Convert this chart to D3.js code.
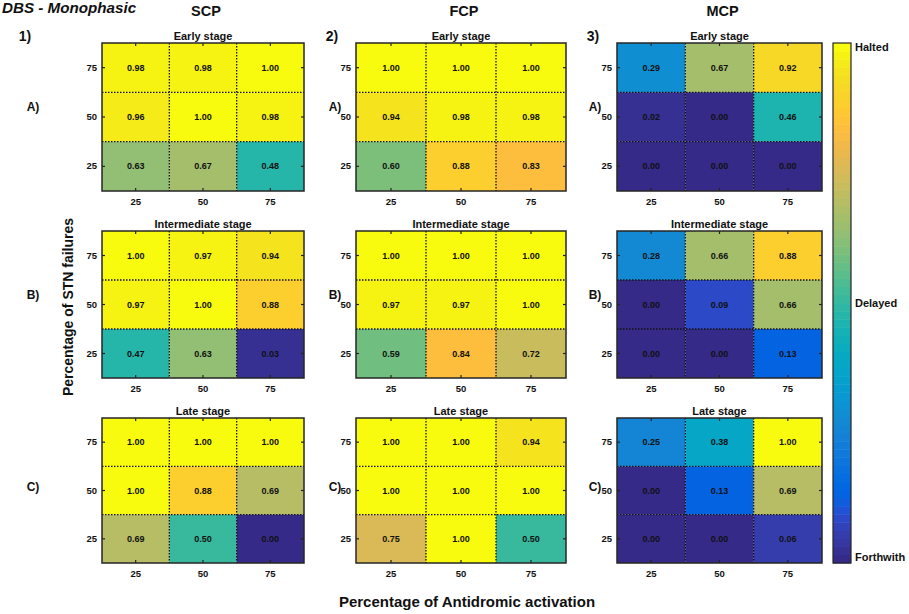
<!DOCTYPE html>
<html>
<head>
<meta charset="utf-8">
<script src="https://cdn.jsdelivr.net/npm/d3@7"></script>
<style>
  html, body { margin: 0; padding: 0; background: #fff; }
  svg { display: block; font-family: "Liberation Sans", Arial, sans-serif; }
</style>
</head>
<body>
<svg id="chart" width="909" height="614"></svg>
<script>
// ---------------- DATA ----------------
const xCategories = ["25", "50", "75"];          // Percentage of Antidromic activation
const yCategories = ["75", "50", "25"];          // Percentage of STN failures (top to bottom)
const protocols = ["SCP", "FCP", "MCP"];
const stages = ["Early stage", "Intermediate stage", "Late stage"];
const rowLetters = ["A)", "B)", "C)"];
const colNumbers = ["1)", "2)", "3)"];
const colorbarLabels = ["Halted", "Delayed", "Forthwith"];

// each matrix: rows = y 75, 50, 25 ; cols = x 25, 50, 75
const scpEarly        = [[0.98, 0.98, 1.00], [0.96, 1.00, 0.98], [0.63, 0.67, 0.48]];
const scpIntermediate = [[1.00, 0.97, 0.94], [0.97, 1.00, 0.88], [0.47, 0.63, 0.03]];
const scpLate         = [[1.00, 1.00, 1.00], [1.00, 0.88, 0.69], [0.69, 0.50, 0.00]];

const fcpEarly        = [[1.00, 1.00, 1.00], [0.94, 0.98, 0.98], [0.60, 0.88, 0.83]];
const fcpIntermediate = [[1.00, 1.00, 1.00], [0.97, 0.97, 1.00], [0.59, 0.84, 0.72]];
const fcpLate         = [[1.00, 1.00, 0.94], [1.00, 1.00, 1.00], [0.75, 1.00, 0.50]];

const mcpEarly        = [[0.29, 0.67, 0.92], [0.02, 0.00, 0.46], [0.00, 0.00, 0.00]];
const mcpIntermediate = [[0.28, 0.66, 0.88], [0.00, 0.09, 0.66], [0.00, 0.00, 0.13]];
const mcpLate         = [[0.25, 0.38, 1.00], [0.00, 0.13, 0.69], [0.00, 0.00, 0.06]];

const matrices = [
  [scpEarly, fcpEarly, mcpEarly],
  [scpIntermediate, fcpIntermediate, mcpIntermediate],
  [scpLate, fcpLate, mcpLate]
];

// ---------------- COLORMAP (MATLAB parula, 64 levels) ----------------
const PARULA = [
[0.2081,0.1663,0.5292],[0.2116,0.1898,0.5777],[0.2123,0.2138,0.6270],[0.2081,0.2386,0.6771],
[0.1959,0.2645,0.7279],[0.1707,0.2919,0.7792],[0.1253,0.3242,0.8303],[0.0591,0.3598,0.8683],
[0.0117,0.3875,0.8820],[0.0060,0.4086,0.8828],[0.0165,0.4266,0.8786],[0.0329,0.4430,0.8720],
[0.0498,0.4586,0.8641],[0.0629,0.4737,0.8554],[0.0723,0.4887,0.8467],[0.0779,0.5040,0.8384],
[0.0793,0.5200,0.8312],[0.0749,0.5375,0.8263],[0.0641,0.5570,0.8240],[0.0488,0.5772,0.8228],
[0.0343,0.5966,0.8199],[0.0265,0.6137,0.8135],[0.0239,0.6287,0.8038],[0.0231,0.6418,0.7913],
[0.0228,0.6535,0.7768],[0.0267,0.6642,0.7607],[0.0384,0.6743,0.7436],[0.0590,0.6838,0.7254],
[0.0843,0.6928,0.7062],[0.1133,0.7015,0.6859],[0.1453,0.7098,0.6646],[0.1801,0.7177,0.6424],
[0.2178,0.7250,0.6193],[0.2586,0.7317,0.5954],[0.3022,0.7376,0.5712],[0.3482,0.7424,0.5473],
[0.3953,0.7459,0.5244],[0.4420,0.7481,0.5033],[0.4871,0.7491,0.4840],[0.5300,0.7491,0.4661],
[0.5709,0.7485,0.4494],[0.6099,0.7473,0.4337],[0.6473,0.7456,0.4188],[0.6834,0.7435,0.4044],
[0.7184,0.7411,0.3905],[0.7525,0.7384,0.3768],[0.7858,0.7356,0.3633],[0.8185,0.7327,0.3498],
[0.8507,0.7299,0.3360],[0.8824,0.7274,0.3217],[0.9139,0.7258,0.3063],[0.9450,0.7261,0.2886],
[0.9739,0.7314,0.2666],[0.9938,0.7455,0.2403],[0.9990,0.7653,0.2164],[0.9955,0.7861,0.1967],
[0.9880,0.8066,0.1794],[0.9789,0.8271,0.1633],[0.9697,0.8481,0.1475],[0.9626,0.8705,0.1309],
[0.9589,0.8949,0.1132],[0.9598,0.9218,0.0948],[0.9661,0.9514,0.0755],[0.9763,0.9831,0.0538]
];
const parulaColors = PARULA.map(c => d3.rgb(c[0]*255, c[1]*255, c[2]*255).formatHex());
const colorIndex = d3.scaleQuantize().domain([0, 1]).range(d3.range(64));
const color = v => parulaColors[colorIndex(v)];

// ---------------- LAYOUT ----------------
const colX = [[102, 304], [356, 566], [617, 822]];
const rowY = [[43, 191], [231, 378], [418, 563]];
const letterX = [33, 335, 595];
const letterY = [107, 295, 487];

const svg = d3.select("#chart");
const FONT = "'Liberation Sans', Arial, sans-serif";

// top texts
svg.append("text").attr("x", 2).attr("y", 13)
  .attr("font-size", 15.2).attr("font-weight", "bold").attr("font-style", "italic")
  .attr("fill", "#111").text("DBS - Monophasic");

protocols.forEach((p, j) => {
  svg.append("text").attr("x", (colX[j][0] + colX[j][1]) / 2 + 3).attr("y", 16)
    .attr("text-anchor", "middle").attr("font-size", 14.5).attr("font-weight", "bold")
    .attr("fill", "#111").text(p);
  svg.append("text").attr("x", [25, 332, 593][j]).attr("y", 41)
    .attr("text-anchor", "middle").attr("font-size", 14).attr("font-weight", "bold")
    .attr("fill", "#111").text(colNumbers[j]);
});

// panels
stages.forEach((stage, i) => {
  protocols.forEach((p, j) => {
    const [x0, x1] = colX[j];
    const [y0, y1] = rowY[i];
    const x = d3.scaleBand().domain(xCategories).range([x0, x1]);
    const y = d3.scaleBand().domain(yCategories).range([y0, y1]);
    const g = svg.append("g");
    const data = [];
    matrices[i][j].forEach((row, ri) => row.forEach((v, ci) =>
      data.push({ xc: xCategories[ci], yc: yCategories[ri], v })));

    g.selectAll("rect.cell").data(data).enter().append("rect")
      .attr("class", "cell")
      .attr("x", d => x(d.xc)).attr("y", d => y(d.yc))
      .attr("width", x.bandwidth()).attr("height", y.bandwidth())
      .attr("fill", d => color(d.v));

    // dotted grid lines between cells
    xCategories.slice(1).forEach(c => {
      g.append("line").attr("x1", x(c)).attr("x2", x(c)).attr("y1", y0).attr("y2", y1)
        .attr("stroke", "#111").attr("stroke-width", 1.3).attr("stroke-dasharray", "1.5,1.5");
    });
    yCategories.slice(1).forEach(c => {
      g.append("line").attr("y1", y(c)).attr("y2", y(c)).attr("x1", x0).attr("x2", x1)
        .attr("stroke", "#111").attr("stroke-width", 1.3).attr("stroke-dasharray", "1.5,1.5");
    });

    // value labels
    g.selectAll("text.val").data(data).enter().append("text")
      .attr("class", "val")
      .attr("x", d => x(d.xc) + x.bandwidth() / 2)
      .attr("y", d => y(d.yc) + y.bandwidth() / 2)
      .attr("dy", "0.35em").attr("text-anchor", "middle")
      .attr("font-size", 9).attr("font-weight", "bold").attr("fill", "#111")
      .text(d => d.v.toFixed(2));

    // axes
    const axL = g.append("g").attr("transform", `translate(${x0},0)`)
      .call(d3.axisLeft(y).tickSize(-3).tickPadding(5));
    const axB = g.append("g").attr("transform", `translate(0,${y1})`)
      .call(d3.axisBottom(x).tickSize(-3).tickPadding(7));
    const axR = g.append("g").attr("transform", `translate(${x1},0)`)
      .call(d3.axisRight(y).tickSize(-3).tickFormat(""));
    const axT = g.append("g").attr("transform", `translate(0,${y0})`)
      .call(d3.axisTop(x).tickSize(-3).tickFormat(""));
    [axL, axB, axR, axT].forEach(a => {
      a.select(".domain").remove();
      a.selectAll("line").attr("stroke", "#222").attr("stroke-width", 1.2);
      a.selectAll("text").attr("font-size", 9.5).attr("font-weight", "bold")
        .attr("fill", "#111").attr("font-family", FONT);
    });

    // border
    g.append("rect").attr("x", x0).attr("y", y0).attr("width", x1 - x0).attr("height", y1 - y0)
      .attr("fill", "none").attr("stroke", "#262626").attr("stroke-width", 1.5);

    // title
    g.append("text").attr("x", (x0 + x1) / 2).attr("y", y0 - 3)
      .attr("text-anchor", "middle").attr("font-size", 11).attr("font-weight", "bold")
      .attr("fill", "#111").text(stage);

    // row letter
    g.append("text").attr("x", letterX[j]).attr("y", letterY[i])
      .attr("text-anchor", "middle").attr("dy", "0.35em")
      .attr("font-size", 12).attr("font-weight", "bold").attr("fill", "#111")
      .text(rowLetters[i]);
  });
});

// axis titles
svg.append("text")
  .attr("transform", "translate(73,307) rotate(-90)")
  .attr("text-anchor", "middle").attr("font-size", 14).attr("font-weight", "bold")
  .attr("fill", "#111").text("Percentage of STN failures");
svg.append("text").attr("x", 467).attr("y", 607)
  .attr("text-anchor", "middle").attr("font-size", 15).attr("font-weight", "bold")
  .attr("fill", "#111").text("Percentage of Antidromic activation");

// colorbar
const cbX = 833, cbW = 18, cbTop = 43, cbBot = 563;
const cbScale = d3.scaleLinear().domain([0, 1]).range([cbBot, cbTop]);
const cb = svg.append("g");
cb.selectAll("rect").data(d3.range(64)).enter().append("rect")
  .attr("x", cbX).attr("width", cbW)
  .attr("y", k => cbScale((k + 1) / 64))
  .attr("height", k => cbScale(k / 64) - cbScale((k + 1) / 64) + 0.5)
  .attr("fill", k => parulaColors[k]);
cb.append("rect").attr("x", cbX).attr("y", cbTop).attr("width", cbW).attr("height", cbBot - cbTop)
  .attr("fill", "none").attr("stroke", "#262626").attr("stroke-width", 1.2);
const cbLabelPos = [0.992, 0.5, 0.012];
colorbarLabels.forEach((t, k) => {
  svg.append("text").attr("x", cbX + cbW + 4).attr("y", cbScale(cbLabelPos[k]))
    .attr("dy", "0.35em").attr("font-size", 11).attr("font-weight", "bold")
    .attr("fill", "#111").text(t);
});
</script>
</body>
</html>
